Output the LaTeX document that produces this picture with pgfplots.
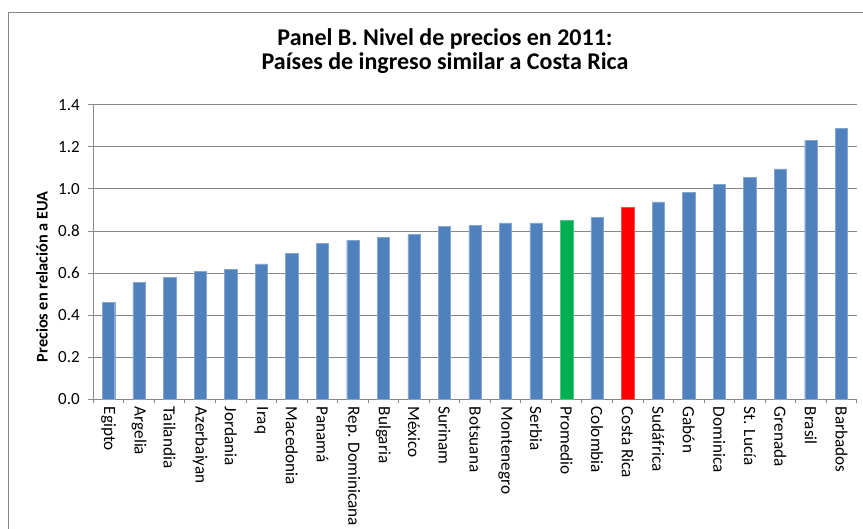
\documentclass[border=0pt]{standalone}
\usepackage{fontspec}
\setmainfont{Carlito}
\usepackage{pgfplots}
\pgfplotsset{compat=1.18}

\definecolor{barblue}{HTML}{4F81BD}
\definecolor{bargreen}{HTML}{00B050}
\definecolor{barred}{HTML}{FF0000}
\definecolor{axisgray}{HTML}{878787}

\begin{document}
\begin{tikzpicture}[x=1pt,y=1pt]
\useasboundingbox (0,0) rectangle (863,529);
% chart frame (left and top edges visible)
\draw[axisgray, line width=1pt] (8.5,0) -- (8.5,516) -- (863,516);
% title
\node[anchor=base, font=\fontsize{24}{28}\selectfont\bfseries] at (445,483) {Panel B. Nivel de precios en 2011:};
\node[anchor=base, font=\fontsize{24}{28}\selectfont\bfseries] at (445,459) {Países de ingreso similar a Costa Rica};
% y label
\node[rotate=90, font=\fontsize{16.3}{19}\selectfont\bfseries] at (42,252) {Precios en relación a EUA};

\begin{axis}[
  at={(93.3pt,129.7pt)}, anchor=south west,
  scale only axis,
  width=763.4pt, height=294.6pt,
  ymin=0, ymax=1.4,
  ytick={0,0.2,...,1.4},
  xmin=-0.5, xmax=24.5,
  xtick={0,...,24},
  xticklabels={Egipto,Argelia,Tailandia,Azerbaiyan,Jordania,Iraq,Macedonia,Panamá,Rep. Dominicana,Bulgaria,México,Surinam,Botsuana,Montenegro,Serbia,Promedio,Colombia,Costa Rica,Sudáfrica,Gabón,Dominica,St. Lucía,Grenada,Brasil,Barbados},
  minor xtick={-0.5,0.5,...,24.5},
  major x tick style={draw=none},
  minor tick length=4pt,
  major tick length=5pt,
  tick align=outside,
  axis x line*=bottom,
  axis y line*=left,
  axis line style={axisgray, line width=0.9pt, -},
  tick style={axisgray, line width=0.9pt},
  ymajorgrids,
  grid style={axisgray, line width=0.9pt},
  xticklabel style={rotate=-90, anchor=west, font=\fontsize{17.2}{20}\selectfont, xshift=-1pt},
  yticklabel style={font=\fontsize{17}{20}\selectfont, xshift=-5pt},
  /pgf/number format/assume math mode=true,
  yticklabel={\pgfmathprintnumber[fixed,fixed zerofill,precision=1]{\tick}},
  ybar, bar width=12.3pt, bar shift=0pt,
]
\addplot[fill=barblue, draw=barblue!70!white] coordinates {
  (0,0.461) (1,0.556) (2,0.580) (3,0.608) (4,0.619) (5,0.643)
  (6,0.694) (7,0.740) (8,0.756) (9,0.771) (10,0.784) (11,0.822)
  (12,0.825) (13,0.838) (14,0.838) (16,0.865) (18,0.938)
  (19,0.985) (20,1.023) (21,1.055) (22,1.095) (23,1.231) (24,1.288)
};
\addplot[fill=bargreen, draw=bargreen!70!white] coordinates {(15,0.849)};
\addplot[fill=barred, draw=barred!70!white] coordinates {(17,0.912)};
\end{axis}
\end{tikzpicture}
\end{document}
